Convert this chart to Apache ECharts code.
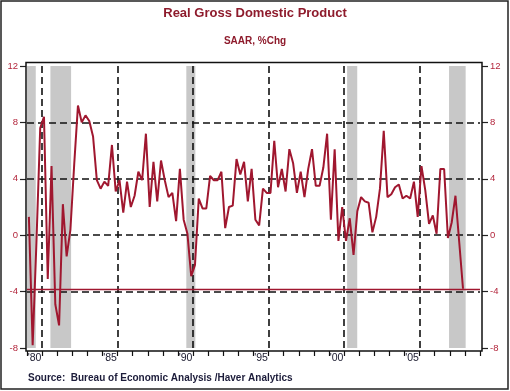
<!DOCTYPE html>
<html>
<head>
<meta charset="utf-8">
<script src="https://cdn.jsdelivr.net/npm/echarts@6/dist/echarts.min.js"></script>
<style>
html,body{margin:0;padding:0;background:#fff;}
#c{width:510px;height:391px;}
</style>
</head>
<body>
<div id="c"></div>
<script>
// ---- Data ----
const startYear = 1980;               // first quarter: 1980Q1
const gdp = [
  1.3, -7.8, -0.5, 7.6,     // 1980
  8.4, -3.1, 4.9, -4.9,     // 1981
  -6.4, 2.2, -1.5, 0.4,     // 1982
  5.0, 9.2, 8.0, 8.5,       // 1983
  8.1, 7.0, 3.9, 3.3,       // 1984
  3.8, 3.5, 6.4, 3.1,       // 1985
  3.9, 1.6, 3.8, 2.0,       // 1986
  2.8, 4.5, 3.9, 7.2,       // 1987
  2.0, 5.2, 2.4, 5.3,       // 1988
  3.9, 2.7, 3.0, 1.0,       // 1989
  4.7, 1.1, 0.1, -2.9,      // 1990
  -2.1, 2.6, 1.9, 1.9,      // 1991
  4.2, 3.9, 3.9, 4.5,       // 1992
  0.5, 2.0, 2.1, 5.4,       // 1993
  4.3, 5.2, 2.4, 4.7,       // 1994
  1.1, 0.7, 3.3, 3.0,       // 1995
  3.0, 6.7, 3.4, 4.7,       // 1996
  3.1, 6.1, 5.1, 3.0,       // 1997
  4.5, 2.7, 4.7, 6.1,       // 1998
  3.5, 3.5, 4.8, 7.2,       // 1999
  1.1, 6.1, -0.4, 2.0,      // 2000
  -0.4, 1.2, -1.4, 1.7,     // 2001
  2.7, 2.4, 2.3, 0.2,       // 2002
  1.3, 3.3, 7.4, 2.7,       // 2003
  2.9, 3.4, 3.6, 2.6,       // 2004
  2.8, 2.6, 3.8, 1.3,       // 2005
  4.9, 3.2, 0.8, 1.4,       // 2006
  0.1, 4.7, 4.7, -0.2,      // 2007
  0.9, 2.8, -0.5, -3.8      // 2008
];
const recessions = [[1980.0, 1980.58], [1981.55, 1982.92], [1990.55, 1991.15], [2001.2, 2001.87], [2007.95, 2009.05]];
const yearCats = [];
for (let y = 1980; y < 2010; y++) yearCats.push(String(y));
const vGridYears = [1981, 1986, 1991, 1996, 2001, 2006];
const hGridValues = [8, 4, 0, -4];
const yTicks = {min: -8, max: 12, interval: 4};

// quarterly points at mid-quarter
const seriesData = gdp.map((v, i) => [startYear + Math.floor(i / 4) + (i % 4) / 4 + 0.125, v]);
const lastValue = gdp[gdp.length - 1];

const RED = '#a0172f';
const FONT = "'Liberation Sans', Arial, sans-serif";

const chart = echarts.init(document.getElementById('c'), null, {renderer: 'canvas'});

const markLines = [];
vGridYears.forEach(y => markLines.push({xAxis: y, lineStyle: {type: [7, 4], color: '#111', width: 1.6}}));
hGridValues.forEach(v => markLines.push({yAxis: v, lineStyle: {type: [7, 4], color: '#111', width: 1.6}}));
markLines.push({yAxis: lastValue, lineStyle: {type: 'solid', color: RED, width: 1.3}});

const yAxisCommon = {
  type: 'value', min: yTicks.min, max: yTicks.max, interval: yTicks.interval,
  axisLine: {show: false, onZero: false},
  axisTick: {show: true, length: 6, lineStyle: {color: '#222', width: 1.2}},
  axisLabel: {color: '#b3263c', fontSize: 9.5, fontFamily: FONT, margin: 8},
  splitLine: {show: false}
};

chart.setOption({
  animation: false,
  backgroundColor: '#fff',
  title: [
    {text: 'Real Gross Domestic Product', left: 'center', top: 2,
     textStyle: {color: '#8e1b2c', fontSize: 13, fontWeight: 'bold', fontFamily: FONT}},
    {text: 'SAAR, %Chg', left: 'center', top: 31,
     textStyle: {color: '#8e1b2c', fontSize: 10, fontWeight: 'bold', fontFamily: FONT}}
  ],
  grid: {left: 27, right: 30, top: 66, bottom: 43, containLabel: false},
  xAxis: [
    {type: 'value', min: 1980, max: 2010, show: false, axisLine: {onZero: false}},
    {type: 'category', data: yearCats, boundaryGap: true, position: 'bottom', offset: 3,
     axisLine: {show: false, onZero: false},
     axisTick: {show: true, interval: 0, length: 5, lineStyle: {color: '#111', width: 1.2}},
     axisLabel: {interval: 0, margin: 2, color: '#1a1a2e', fontSize: 10.5, fontFamily: FONT,
       formatter: (v, i) => (i % 5 === 0 ? "'" + v.slice(2) : '')},
     splitLine: {show: false}}
  ],
  yAxis: [
    Object.assign({}, yAxisCommon, {position: 'left', offset: 1}),
    Object.assign({}, yAxisCommon, {position: 'right', offset: 2})
  ],
  series: [
    {
      name: 'bg', type: 'line', xAxisIndex: 0, yAxisIndex: 0, data: [], z: 1, silent: true,
      markArea: {silent: true, itemStyle: {color: '#c8c8c8'},
        data: recessions.map(r => [{xAxis: r[0]}, {xAxis: r[1]}])},
      markLine: {silent: true, symbol: ['none', 'none'], label: {show: false},
        animation: false, data: markLines}
    },
    {
      name: 'Real GDP', type: 'line', xAxisIndex: 0, yAxisIndex: 0, z: 5,
      data: seriesData, showSymbol: false, symbol: 'none',
      lineStyle: {color: RED, width: 2}
    }
  ],
  graphic: [
    {type: 'rect', z: 100, shape: {x: 26, y: 62.5, width: 456, height: 288.5},
     style: {fill: 'none', stroke: '#111', lineWidth: 1.5}},
    {type: 'rect', z: 100, shape: {x: 1, y: 1, width: 507, height: 388},
     style: {fill: 'none', stroke: '#222', lineWidth: 1.5}},
    {type: 'text', z: 100, left: 28, top: 373,
     style: {text: 'Source:  Bureau of Economic Analysis /Haver Analytics',
       fill: '#1c1c3a', font: "bold 10px 'Liberation Sans', Arial, sans-serif"}}
  ]
});
</script>
</body>
</html>
